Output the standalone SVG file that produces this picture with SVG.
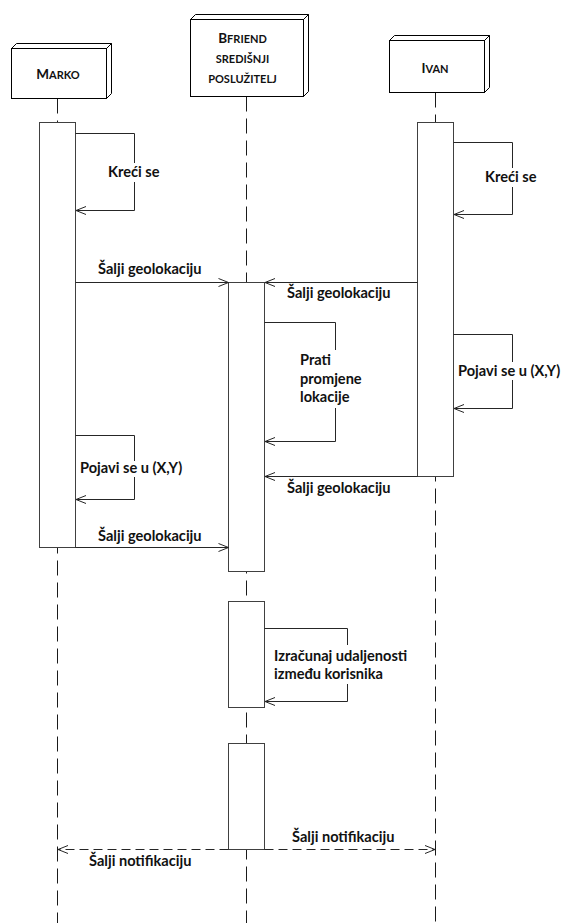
<svg xmlns="http://www.w3.org/2000/svg" width="563" height="923" viewBox="0 0 563 923">
  <style>
    .bg { fill: #ffffff; }
    .head { fill: #ffffff; stroke: #000000; stroke-width: 1; }
    .lifeline { fill: none; stroke: #1a1a1a; stroke-width: 1; stroke-dasharray: 15 7; }
    .act { fill: #ffffff; stroke: #404040; stroke-width: 1; }
    .msg { fill: none; stroke: #262626; stroke-width: 1; }
    .ret { fill: none; stroke: #262626; stroke-width: 1; stroke-dasharray: 9 5; }
    .hd { font-family: Lato, "Liberation Sans", sans-serif; font-weight: bold; fill: #111111; text-anchor: middle; }
    .lbl { font-family: Lato, "Liberation Sans", sans-serif; font-weight: bold; font-size: 14.6px; fill: #111111; }
  </style>
  <defs>
    <marker id="open" viewBox="-11 -5 12 10" refX="0" refY="0" markerWidth="12" markerHeight="10" markerUnits="userSpaceOnUse" orient="auto">
      <path d="M-10,-4 L0,0 L-10,4" fill="none" stroke="#262626" stroke-width="1"/>
    </marker>
  </defs>
  <rect class="bg" x="0" y="0" width="563" height="923"/>

  <!-- lifelines -->
  <g id="lifelines">
    <line class="lifeline" x1="57.5" y1="98.5" x2="57.5" y2="923"/>
    <line class="lifeline" x1="246.5" y1="96.5" x2="246.5" y2="923"/>
    <line class="lifeline" x1="435.5" y1="92.5" x2="435.5" y2="923"/>
  </g>

  <!-- participant: Marko -->
  <g id="marko">
    <path class="head" d="M11.5,48.5 L16.5,43.5 L111.5,43.5 L106.5,48.5 Z"/>
    <path class="head" d="M106.5,48.5 L111.5,43.5 L111.5,93.5 L106.5,98.5 Z"/>
    <rect class="head" x="11.5" y="48.5" width="95" height="50"/>
    <text class="hd" x="58" y="79" font-size="13.5">M<tspan font-size="11">ARKO</tspan></text>
    <rect class="act" x="39.5" y="122.5" width="36" height="425"/>
  </g>

  <!-- participant: BFriend server -->
  <g id="server">
    <path class="head" d="M190.5,19.5 L195.5,14.5 L308.5,14.5 L303.5,19.5 Z"/>
    <path class="head" d="M303.5,19.5 L308.5,14.5 L308.5,91.5 L303.5,96.5 Z"/>
    <rect class="head" x="190.5" y="19.5" width="113" height="77"/>
    <text class="hd" x="242.5" y="43" font-size="13.5">B<tspan font-size="11">FRIEND</tspan></text>
    <text class="hd" x="242.5" y="63" font-size="11">SREDIŠNJI</text>
    <text class="hd" x="242.5" y="83" font-size="11">POSLUŽITELJ</text>
    <rect class="act" x="228.5" y="282.5" width="36" height="289"/>
    <rect class="act" x="228.5" y="601.5" width="36" height="106"/>
    <rect class="act" x="228.5" y="743.5" width="36" height="106"/>
  </g>

  <!-- participant: Ivan -->
  <g id="ivan">
    <path class="head" d="M389.5,40.5 L394.5,35.5 L489.5,35.5 L484.5,40.5 Z"/>
    <path class="head" d="M484.5,40.5 L489.5,35.5 L489.5,87.5 L484.5,92.5 Z"/>
    <rect class="head" x="389.5" y="40.5" width="95" height="52"/>
    <text class="hd" x="435" y="72.5" font-size="13.5">I<tspan font-size="11">VAN</tspan></text>
    <rect class="act" x="417.5" y="122.5" width="36" height="354"/>
  </g>

  <!-- messages -->
  <g id="connectors">
    <!-- Marko: self move -->
    <polyline class="msg" points="75.5,133.5 134.5,133.5 134.5,163"/>
    <polyline class="msg" points="134.5,182 134.5,210.5 76,210.5" marker-end="url(#open)"/>
    <text class="lbl" x="108" y="177">Kreći se</text>

    <!-- Ivan: self move -->
    <polyline class="msg" points="453.5,142.5 512.5,142.5 512.5,168"/>
    <polyline class="msg" points="512.5,187 512.5,214.5 454,214.5" marker-end="url(#open)"/>
    <text class="lbl" x="485" y="182">Kreći se</text>

    <!-- Marko -> server -->
    <line class="msg" x1="75.5" y1="282.5" x2="228.5" y2="282.5" marker-end="url(#open)"/>
    <text class="lbl" x="98" y="274">Šalji geolokaciju</text>

    <!-- Ivan -> server -->
    <line class="msg" x1="417.5" y1="282.5" x2="265" y2="282.5" marker-end="url(#open)"/>
    <text class="lbl" x="287" y="298">Šalji geolokaciju</text>

    <!-- server: track location changes -->
    <polyline class="msg" points="264.5,322.5 335.5,322.5 335.5,350"/>
    <polyline class="msg" points="335.5,408 335.5,441.5 265,441.5" marker-end="url(#open)"/>
    <text class="lbl" x="300" y="365">Prati</text>
    <text class="lbl" x="300" y="383.5">promjene</text>
    <text class="lbl" x="300" y="402">lokacije</text>

    <!-- Ivan: appears at (X,Y) -->
    <polyline class="msg" points="453.5,334.5 512.5,334.5 512.5,362"/>
    <polyline class="msg" points="512.5,380 512.5,408.5 454,408.5" marker-end="url(#open)"/>
    <text class="lbl" x="458" y="375.5">Pojavi se u (X,Y)</text>

    <!-- Ivan -> server, second -->
    <line class="msg" x1="417.5" y1="476.5" x2="265" y2="476.5" marker-end="url(#open)"/>
    <text class="lbl" x="287" y="492.5">Šalji geolokaciju</text>

    <!-- Marko: appears at (X,Y) -->
    <polyline class="msg" points="75.5,435.5 134.5,435.5 134.5,461"/>
    <polyline class="msg" points="134.5,477 134.5,499.5 76,499.5" marker-end="url(#open)"/>
    <text class="lbl" x="80" y="472.5">Pojavi se u (X,Y)</text>

    <!-- Marko -> server, second -->
    <line class="msg" x1="75.5" y1="547.5" x2="228.5" y2="547.5" marker-end="url(#open)"/>
    <text class="lbl" x="98" y="540.5">Šalji geolokaciju</text>

    <!-- server: compute distance -->
    <polyline class="msg" points="264.5,628.5 347.5,628.5 347.5,645"/>
    <polyline class="msg" points="347.5,684 347.5,701.5 265,701.5" marker-end="url(#open)"/>
    <text class="lbl" x="274" y="660.5">Izračunaj udaljenosti</text>
    <text class="lbl" x="274" y="678.5">između korisnika</text>

    <!-- notifications -->
    <line class="ret" x1="228.5" y1="849.5" x2="58" y2="849.5" marker-end="url(#open)"/>
    <line class="ret" x1="264.5" y1="849.5" x2="435" y2="849.5" marker-end="url(#open)"/>
    <text class="lbl" x="292" y="841.5">Šalji notifikaciju</text>
    <text class="lbl" x="89" y="865.5">Šalji notifikaciju</text>
  </g>
</svg>
